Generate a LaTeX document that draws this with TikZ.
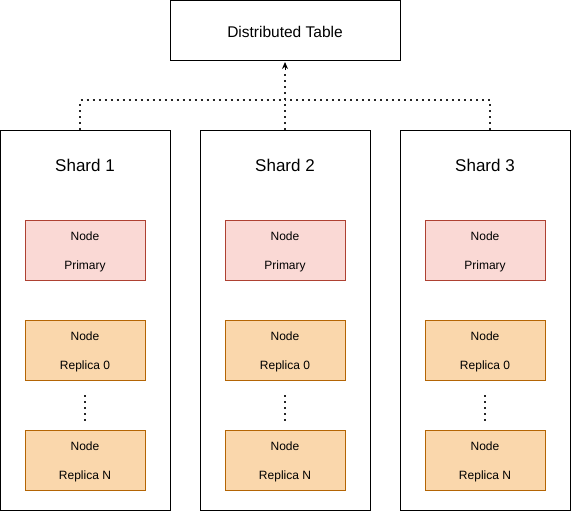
\documentclass[tikz,border=0pt]{standalone}
\usepackage{fontspec}
\setmainfont{Liberation Sans}
\usetikzlibrary{arrows.meta}
\definecolor{primfill}{HTML}{FAD9D5}
\definecolor{primdraw}{HTML}{AE4132}
\definecolor{repfill}{HTML}{FAD7AC}
\definecolor{repdraw}{HTML}{B46504}
\tikzset{
  shardbox/.style={draw=black, line width=1pt, minimum width=170pt, minimum height=380pt, inner sep=0pt},
  topbox/.style={draw=black, line width=1pt, minimum width=230pt, minimum height=60pt, inner sep=0pt},
  toptext/.style={font=\fontsize{15.5}{18}\selectfont},
  shardlabel/.style={font=\fontsize{17}{20}\selectfont},
  primbox/.style={draw=primdraw, fill=primfill, line width=1pt, minimum width=120pt, minimum height=60pt, inner sep=0pt},
  repbox/.style={draw=repdraw, fill=repfill, line width=1pt, minimum width=120pt, minimum height=60pt, inner sep=0pt},
  boxtext/.style={align=center, font=\fontsize{12}{28.5}\selectfont, inner sep=0pt},
  dotline/.style={line width=2pt, dash pattern=on 2pt off 4pt, black!85},
}
\begin{document}
\begin{tikzpicture}[x=1pt, y=-1pt]
\useasboundingbox (0,0) rectangle (572,519);
\node[topbox] (dt) at (285,30.5) {};
\node[toptext] (dtt) at ([yshift=-1pt]dt.center) {Distributed Table};
\foreach \i/\cx in {1/85, 2/285, 3/485} {
  \node[shardbox] (s\i) at (\cx,320) {};
  \node[shardlabel] (l\i) at (\cx,165) {Shard \i};
  \node[primbox] (p\i) at (\cx,250) {};
  \node[boxtext] (pt\i) at ([yshift=-2pt]p\i.center) {Node\\Primary};
  \node[repbox] (r\i) at (\cx,350) {};
  \node[boxtext] (rt\i) at ([yshift=-2pt]r\i.center) {Node\\Replica 0};
  \node[repbox] (n\i) at (\cx,460) {};
  \node[boxtext] (nt\i) at ([yshift=-2pt]n\i.center) {Node\\Replica N};
  \coordinate (da\i) at (\cx,395);
  \coordinate (db\i) at (\cx,421);
  \draw[dotline] (da\i) -- (db\i);
}
\coordinate (j) at (285,100);
\coordinate (tipbase) at ([yshift=-9pt]dt.south);
\draw[dotline] ([xshift=-5pt]s1.north) |- (j);
\draw[dotline] ([xshift=5pt]s3.north) |- (j);
\draw[dotline] (s2.north) -- (tipbase);
\draw[-{Stealth[length=7pt,width=6pt]}, line width=1pt] (tipbase) -- ([yshift=-1pt]dt.south);
\end{tikzpicture}
\end{document}
